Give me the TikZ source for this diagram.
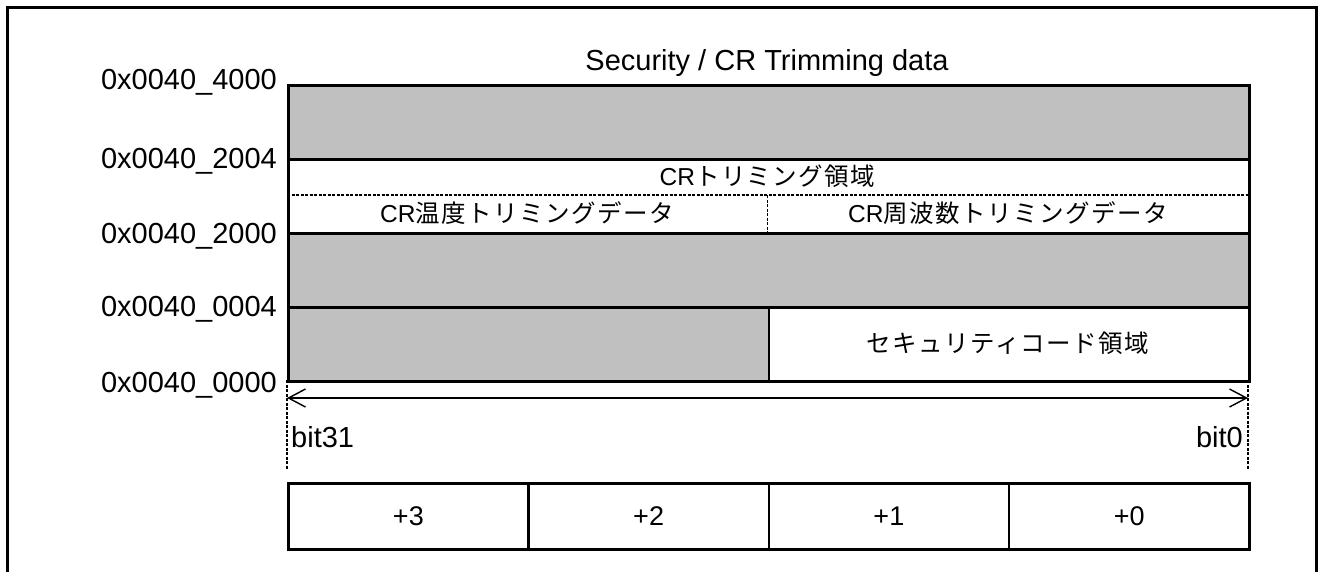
\documentclass[tikz,border=0pt]{standalone}
\usepackage{fontspec}
\setmainfont{Liberation Sans}
\newfontfamily\jp[LetterSpace=6]{Noto Sans CJK JP}
\usetikzlibrary{arrows.meta}
\definecolor{memgray}{RGB}{192,192,192}
\tikzset{
  cell/.style={draw, line width=2.5pt, anchor=north west, inner sep=0pt, minimum height=74pt},
  addr/.style={anchor=base east, inner sep=0pt, font=\fontsize{29}{33}\selectfont},
  tabtxt/.style={anchor=base, inner sep=0pt, font=\fontsize{24.5}{29}\selectfont},
  bittxt/.style={inner sep=0pt, font=\fontsize{29}{33}\selectfont},
  bytebox/.style={draw, line width=2.5pt, anchor=north west, inner sep=0pt, minimum width=240.25pt, minimum height=66pt, font=\fontsize{27}{31}\selectfont},
  dashline/.style={line width=1.4pt, dash pattern=on 3pt off 1.5pt},
  barb/.style={line width=1.4pt, {Straight Barb[length=17pt,width=18pt]}-{Straight Barb[length=17pt,width=18pt]}}
}
\begin{document}
\begin{tikzpicture}[x=1pt,y=-1pt]
\useasboundingbox (0,0) rectangle (1321,571);
% outer frame
\draw[line width=3.5pt] (7.5,575) -- (7.5,7.5) -- (1316.5,7.5) -- (1316.5,575);
% title
\node[anchor=base, inner sep=0pt, font=\fontsize{29}{33}\selectfont] (title) at (767,70) {Security / CR Trimming data};
% memory rows
\node[cell, fill=memgray, minimum width=961pt] (rsvA) at (287,84) {};
\node[cell, fill=white, minimum width=961pt] (crtrim) at (287,158) {};
\node[cell, fill=memgray, minimum width=961pt] (rsvB) at (287,232) {};
\node[cell, fill=memgray, minimum width=480.5pt] (rsvC) at (287,306) {};
\node[cell, fill=white, minimum width=480.5pt] (sec) at (767.5,306) {};
% dashed separators inside CR trimming area
\coordinate (dL) at (287,195);
\coordinate (dR) at (1248,195);
\coordinate (dT) at (767.5,195);
\coordinate (dB) at (767.5,232);
\draw[dashline] (dL) -- (dR);
\draw[dashline] (dT) -- (dB);
% texts in table
\node[tabtxt] (crarea) at (767.5,185.5) {CR{\jp トリミング領域}};
\node[tabtxt] (crtemp) at (527,222.5) {CR{\jp 温度トリミングデータ}};
\node[tabtxt] (crfreq) at (1008,222.5) {CR{\jp 周波数トリミングデータ}};
\node[tabtxt] (seccode) at (1008,352) {{\jp セキュリティコード領域}};
% address labels
\node[addr] (a4000) at (277,89) {0x0040\_4000};
\node[addr] (a2004) at (277,168) {0x0040\_2004};
\node[addr] (a2000) at (277,243) {0x0040\_2000};
\node[addr] (a0004) at (277,316) {0x0040\_0004};
\node[addr] (a0000) at (277,392) {0x0040\_0000};
% bit range
\coordinate (lTop) at (287,380);
\coordinate (lBot) at (287,470);
\coordinate (rTop) at (1248,380);
\coordinate (rBot) at (1248,470);
\draw[dashline] (lTop) -- (lBot);
\draw[dashline] (rTop) -- (rBot);
\coordinate (aL) at (287,398);
\coordinate (aR) at (1248,398);
\draw[barb] (aL) -- (aR);
\node[bittxt, anchor=base west] (bit31) at (291,447) {bit31};
\node[bittxt, anchor=base east] (bit0) at (1243,447) {bit0};
% byte offsets
\node[bytebox] (b3) at (287,482) {+3};
\node[bytebox] (b2) at (527.25,482) {+2};
\node[bytebox] (b1) at (767.5,482) {+1};
\node[bytebox] (b0) at (1007.75,482) {+0};
\end{tikzpicture}
\end{document}
